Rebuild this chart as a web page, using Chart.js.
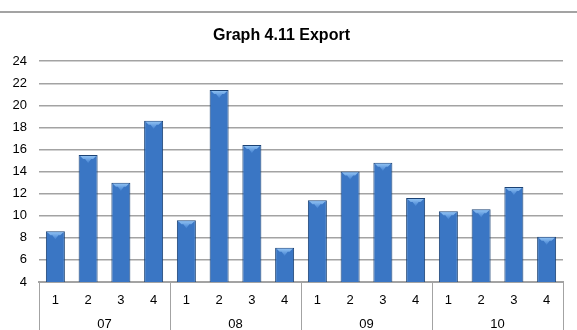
<!DOCTYPE html>
<html>
<head>
<meta charset="utf-8">
<script src="https://cdn.jsdelivr.net/npm/chart.js@4.4.1/dist/chart.umd.min.js"></script>
<style>
    body { margin: 0; background: #fff; overflow: hidden; }
    #wrap { position: relative; width: 577px; height: 336px; }
    #topLine { position: absolute; left: 0; top: 11px; width: 577px; height: 2px; background: #a3a3a3; }
    canvas { display: block; }
</style>
</head>
<body>
<div id="wrap">
    <div id="topLine"></div>
    <canvas id="exportChart" width="577" height="336"></canvas>
</div>
<script>
const years = ['07', '08', '09', '10'];
const quarters = ['1', '2', '3', '4'];
const exportValues = [8.6, 15.5, 13.0, 18.6, 9.6, 21.4, 16.4, 7.1, 11.4, 14.0, 14.8, 11.6, 10.4, 10.6, 12.6, 8.1];
const yTicks = [4, 6, 8, 10, 12, 14, 16, 18, 20, 22, 24];

const labels = [];
years.forEach(y => quarters.forEach(q => labels.push(q)));

const FONT = "'Liberation Sans', Arial, sans-serif";

function barGradient(context) {
    const bar = context.element;
    const ctx = context.chart.ctx;
    if (!bar || !bar.width) return '#3a76c4';
    const x0 = bar.x - bar.width / 2;
    const g = ctx.createLinearGradient(x0, 0, x0 + bar.width, 0);
    g.addColorStop(0, '#214c88');
    g.addColorStop(0.25, '#3874c2');
    g.addColorStop(0.55, '#3d7dcc');
    g.addColorStop(0.85, '#2d63aa');
    g.addColorStop(1, '#1d4680');
    return g;
}

// light cap at the top of each bar
const barCaps = {
    id: 'barCaps',
    afterDatasetsDraw(chart) {
        const ctx = chart.ctx;
        chart.getDatasetMeta(0).data.forEach(bar => {
            const w = bar.width;
            const l = bar.x - w / 2 + 1.5;
            const r = bar.x + w / 2 - 1.5;
            const t = bar.y + 1;
            ctx.save();
            const g = ctx.createLinearGradient(0, t, 0, t + 6);
            g.addColorStop(0, '#8ec0f2');
            g.addColorStop(1, '#4d8ad6');
            ctx.fillStyle = g;
            ctx.beginPath();
            ctx.moveTo(l, t);
            ctx.lineTo(r, t);
            ctx.lineTo(r - 3, t + 3);
            ctx.lineTo(bar.x + 3, t + 3);
            ctx.lineTo(bar.x, t + 7);
            ctx.lineTo(bar.x - 3, t + 3);
            ctx.lineTo(l + 3, t + 3);
            ctx.closePath();
            ctx.fill();
            ctx.restore();
        });
    }
};

// separators between the year groups under the axis
const groupLines = {
    id: 'groupLines',
    afterDraw(chart) {
        const x = chart.scales.x;
        const ctx = chart.ctx;
        const step = (x.getPixelForValue(1) - x.getPixelForValue(0));
        ctx.save();
        ctx.strokeStyle = '#a3a3a3';
        ctx.lineWidth = 1;
        for (let k = 0; k <= years.length; k++) {
            const px = Math.round(x.getPixelForValue(k * quarters.length) - step / 2) + 0.5;
            ctx.beginPath();
            ctx.moveTo(px, chart.chartArea.bottom);
            ctx.lineTo(px, chart.height);
            ctx.stroke();
        }
        ctx.restore();
    }
};

new Chart(document.getElementById('exportChart'), {
    type: 'bar',
    data: {
        labels: labels,
        datasets: [{
            data: exportValues,
            backgroundColor: barGradient,
            borderColor: '#1b4274',
            borderWidth: 1,
            barPercentage: 0.58,
            categoryPercentage: 1
        }]
    },
    options: {
        responsive: false,
        animation: false,
        devicePixelRatio: 1,
        layout: { padding: { left: 0, right: 14, top: 0, bottom: 0 } },
        plugins: {
            legend: { display: false },
            tooltip: { enabled: false },
            title: {
                display: true,
                text: 'Graph 4.11 Export',
                color: '#000',
                font: { family: FONT, size: 16, weight: 'bold' },
                padding: { top: 26, bottom: 16 }
            }
        },
        scales: {
            x: {
                grid: { display: false, drawTicks: false },
                border: { display: true, color: '#a3a3a3', width: 2 },
                ticks: { color: '#000', font: { family: FONT, size: 13 }, padding: 11, maxRotation: 0, autoSkip: false },
                afterFit(scale) { scale.height = 27; }
            },
            x2: {
                type: 'category',
                position: 'bottom',
                labels: years,
                offset: true,
                grid: { display: false, drawTicks: false },
                border: { display: false },
                ticks: { color: '#000', font: { family: FONT, size: 13 }, padding: 8, maxRotation: 0, autoSkip: false },
                afterFit(scale) { scale.height = 27; }
            },
            y: {
                min: 4,
                max: 24,
                afterBuildTicks(scale) { scale.ticks = yTicks.map(v => ({ value: v })); },
                grid: { color: '#a3a3a3', lineWidth: 1.5, drawTicks: false },
                border: { display: false },
                ticks: { color: '#000', font: { family: FONT, size: 13 }, padding: 12, autoSkip: false },
                afterFit(scale) { scale.width = 39; }
            }
        }
    },
    plugins: [barCaps, groupLines]
});
</script>
</body>
</html>
